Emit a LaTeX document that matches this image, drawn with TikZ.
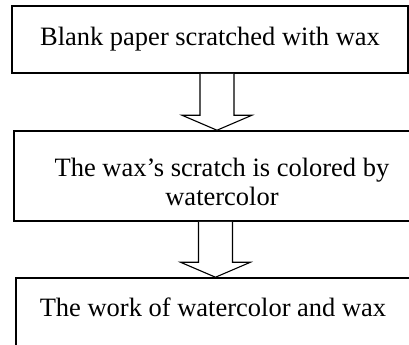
\documentclass[tikz,border=0pt]{standalone}
\usepackage{fontspec}
\setmainfont{Liberation Serif}
\usetikzlibrary{calc}

\newlength\unitpx
\setlength\unitpx{0.453pt}

\tikzset{
  stepbox/.style={draw, line width=0.7pt, rectangle, inner sep=0pt},
  steptext/.style={font=\fontsize{12}{12.8}\selectfont, align=center, inner sep=0pt},
  blockarr/.style={draw, line width=0.5pt, fill=white, line join=miter},
}

% hollow arrow: #1 = start of shaft, #2 = tip
\newcommand{\flowarrow}[2]{%
  \draw[blockarr] ($(#1)+(-17,0)$) -- ($(#2)+(-17,-15)$) -- ($(#2)+(-35,-15)$)
    -- (#2) -- ($(#2)+(35,-15)$) -- ($(#2)+(17,-15)$) -- ($(#1)+(17,0)$);
}

\begin{document}
\begin{tikzpicture}[x=0.453pt,y=-0.453pt]
    \useasboundingbox (0,0) rectangle (409,345);
    \clip (0,0) rectangle (409,345);

    % boxes
    \node[stepbox, minimum width=396\unitpx, minimum height=67\unitpx] (b1) at (210,39.5) {};
    \node[stepbox, minimum width=416\unitpx, minimum height=90\unitpx] (b2) at (222,176) {};
    \node[stepbox, minimum width=404\unitpx, minimum height=102\unitpx] (b3) at (218,329) {};

    \node[steptext] (t1) at (b1.center) {Blank paper scratched with wax};
    \node[steptext] (t2) at ($(b2.center)+(0,6)$) {The wax’s scratch is colored by\\watercolor};
    \node[steptext] (t3) at ($(b3.north)+(-5,30)$) {The work of watercolor and wax};

    % arrows
    \coordinate (tip1) at ($(b2.north)+(-5,0)$);
    \coordinate (top1) at (tip1 |- b1.south);
    \coordinate (tip2) at ($(b3.north)+(-2.5,0)$);
    \coordinate (top2) at (tip2 |- b2.south);
    \flowarrow{top1}{tip1}
    \flowarrow{top2}{tip2}
\end{tikzpicture}
\end{document}
